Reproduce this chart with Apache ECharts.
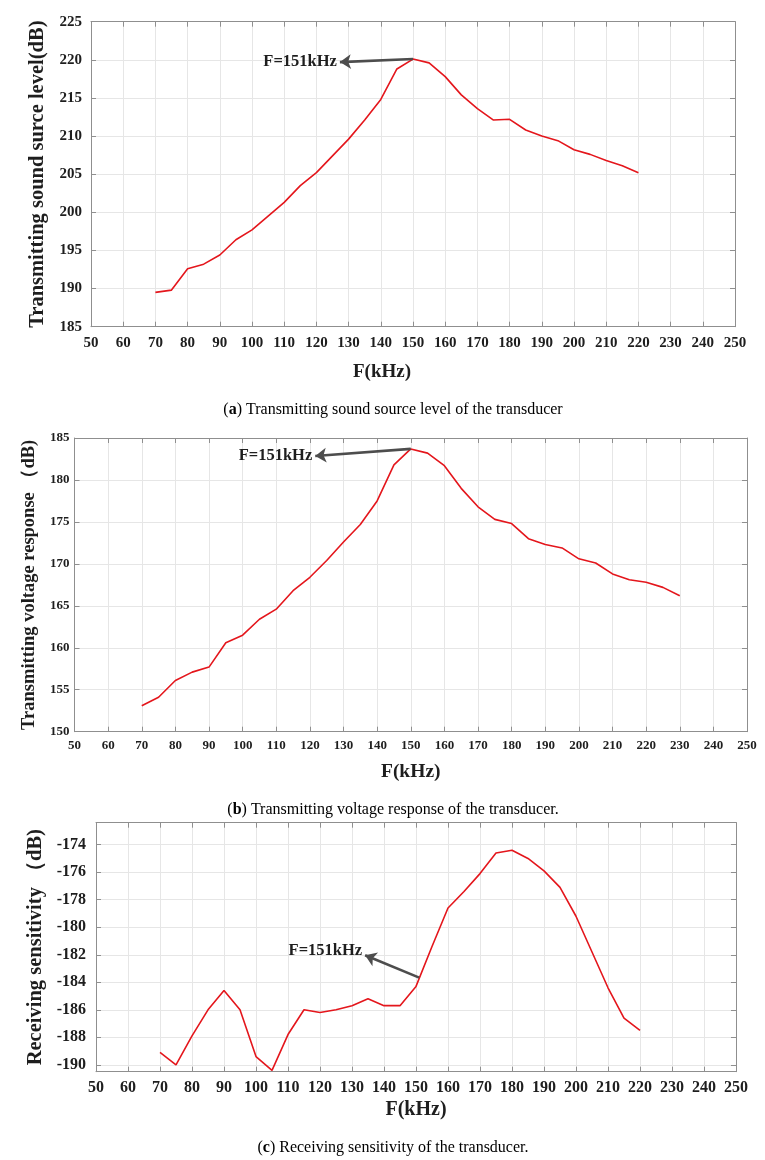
<!DOCTYPE html>
<html><head><meta charset="utf-8">
<script src="https://cdn.jsdelivr.net/npm/echarts@6/dist/echarts.min.js"></script>
<style>html,body{margin:0;padding:0;background:#fff}#c{width:765px;height:1160px}</style>
</head><body><div id="c"></div>
<script>
// ---------- data ----------
const freqA = [70,75,80,85,90,95,100,105,110,115,120,125,130,135,140,145,150,155,160,165,170,175,180,185,190,195,200,205,210,215,220];
const levelA = [189.5,189.8,192.6,193.2,194.4,196.4,197.7,199.5,201.3,203.5,205.2,207.4,209.6,212.1,214.8,218.8,220.1,219.6,217.8,215.4,213.6,212.1,212.2,210.8,210.0,209.4,208.2,207.6,206.8,206.1,205.2];
const freqB = [70,75,80,85,90,95,100,105,110,115,120,125,130,135,140,145,150,155,160,165,170,175,180,185,190,195,200,205,210,215,220,225,230];
const responseB = [153.1,154.1,156.1,157.1,157.7,160.6,161.5,163.4,164.6,166.8,168.4,170.4,172.6,174.7,177.5,181.8,183.7,183.2,181.7,179.0,176.8,175.3,174.8,173.0,172.3,171.9,170.6,170.1,168.8,168.1,167.8,167.2,166.2];
const freqC = [70,75,80,85,90,95,100,105,110,115,120,125,130,135,140,145,150,155,160,165,170,175,180,185,190,195,200,205,210,215,220];
const sensC = [-189.1,-190.0,-187.9,-186.0,-184.6,-186.0,-189.4,-190.4,-187.8,-186.0,-186.2,-186.0,-185.7,-185.2,-185.7,-185.7,-184.3,-181.4,-178.6,-177.4,-176.1,-174.6,-174.4,-175.0,-175.9,-177.1,-179.2,-181.8,-184.4,-186.6,-187.5];
const yTicksC = [-190,-188,-186,-184,-182,-180,-178,-176,-174];
const yNames = ['Transmitting sound surce level(dB)', 'Transmitting voltage response \uFF08dB)', 'Receiving sensitivity \uFF08dB)'];
const xName = 'F(kHz)';
const noteText = 'F=151kHz';
const peakA = [150, 220.1], noteA = [127.3, 219.7];
const peakB = [150, 183.7], noteB = [121.6, 182.86];
const peakC = [151, -183.66], noteC = [134.1, -182.03];
const captionLetters = ['a', 'b', 'c'];
const captionTexts = [' Transmitting sound source level of the transducer', ' Transmitting voltage response of the transducer.', ' Receiving sensitivity of the transducer.'];

// ---------- styling ----------
const SERIF = "'Liberation Serif','Times New Roman',serif";
const BOX = '#8f8f8f';
const GRIDC = '#e6e6e6';
const TXT = '#1e1e1e';
const RED = '#e4161c';

const cfgs = [
  {grid:{left:91, top:21.7, width:644, height:305}, ymin:185, ymax:225, yint:5,
   xFont:15, yFont:15, xMargin:9, yMargin:9, xNameGap:36, xNameSize:19, xNamePad:[0,62,0,0],
   yNameGap:40, yNameSize:20.5},
  {grid:{left:74.5, top:438, width:672.5, height:293.7}, ymin:150, ymax:185, yint:5,
   xFont:13, yFont:13, xMargin:7, yMargin:5, xNameGap:30, xNameSize:19.5, xNamePad:[0,0,0,0],
   yNameGap:34, yNameSize:18.5},
  {grid:{left:96, top:822.7, width:640, height:249}, ymin:-190.5, ymax:-172.4, custom:yTicksC,
   xFont:16, yFont:16, xMargin:8, yMargin:10, xNameGap:28, xNameSize:20, xNamePad:[0,0,0,0],
   yNameGap:46, yNameSize:20.5}
];

const grids = [], xAxes = [], yAxes = [], series = [], graphics = [];
const datasets = [[freqA, levelA, peakA, noteA], [freqB, responseB, peakB, noteB], [freqC, sensC, peakC, noteC]];
const captionY = [410, 810, 1148];

cfgs.forEach((c, i) => {
  grids.push(Object.assign({containLabel:false}, c.grid));
  const tickStyle = {inside:true, length:5, lineStyle:{color:BOX, width:1}};
  const lineStyle = {show:true, onZero:false, lineStyle:{color:BOX, width:1}};
  xAxes.push({
    type:'value', gridIndex:i, min:50, max:250, interval:10, position:'bottom',
    axisLine:lineStyle, axisTick:tickStyle,
    axisLabel:{fontFamily:SERIF, fontWeight:'bold', fontSize:c.xFont, color:TXT, margin:c.xMargin},
    splitLine:{show:true, lineStyle:{color:GRIDC, width:1}},
    name:xName, nameLocation:'middle', nameGap:c.xNameGap,
    nameTextStyle:{fontFamily:SERIF, fontWeight:'bold', fontSize:c.xNameSize, color:TXT, padding:c.xNamePad}
  });
  xAxes.push({
    type:'value', gridIndex:i, min:50, max:250, interval:10, position:'top',
    axisLine:lineStyle, axisTick:tickStyle, axisLabel:{show:false}, splitLine:{show:false}
  });
  const yBase = {type:'value', gridIndex:i, min:c.ymin, max:c.ymax};
  if (c.custom) {
    yAxes.push(Object.assign({}, yBase, {
      position:'left', axisLine:lineStyle,
      axisTick:Object.assign({customValues:c.custom}, tickStyle),
      axisLabel:{customValues:c.custom, fontFamily:SERIF, fontWeight:'bold', fontSize:c.yFont, color:TXT, margin:c.yMargin},
      splitLine:{show:true, lineStyle:{color:GRIDC, width:1}},
      name:yNames[i], nameLocation:'middle', nameRotate:90, nameGap:c.yNameGap,
      nameTextStyle:{fontFamily:SERIF, fontWeight:'bold', fontSize:c.yNameSize, color:TXT}
    }));
    yAxes.push(Object.assign({}, yBase, {
      position:'right', axisLine:lineStyle,
      axisTick:Object.assign({customValues:c.custom}, tickStyle),
      axisLabel:{show:false, customValues:c.custom}, splitLine:{show:false}
    }));
  } else {
    yAxes.push(Object.assign({}, yBase, {
      interval:c.yint, position:'left', axisLine:lineStyle, axisTick:tickStyle,
      axisLabel:{fontFamily:SERIF, fontWeight:'bold', fontSize:c.yFont, color:TXT, margin:c.yMargin},
      splitLine:{show:true, lineStyle:{color:GRIDC, width:1}},
      name:yNames[i], nameLocation:'middle', nameRotate:90, nameGap:c.yNameGap,
      nameTextStyle:{fontFamily:SERIF, fontWeight:'bold', fontSize:c.yNameSize, color:TXT}
    }));
    yAxes.push(Object.assign({}, yBase, {
      interval:c.yint, position:'right', axisLine:lineStyle, axisTick:tickStyle,
      axisLabel:{show:false}, splitLine:{show:false}
    }));
  }
  const [fx, vy, peak, note] = datasets[i];
  series.push({
    type:'line', xAxisIndex:2*i, yAxisIndex:2*i,
    data:fx.map((f, k) => [f, vy[k]]),
    showSymbol:false, symbol:'none', silent:true,
    lineStyle:{color:RED, width:1.6},
    markLine:{
      silent:true, symbol:['none','arrow'], symbolSize:11,
      lineStyle:{color:'#4d4d4d', width:2.6, type:'solid'},
      itemStyle:{color:'#4d4d4d'},
      label:{show:false},
      data:[[{coord:peak, symbol:'none'}, {coord:note, symbol:'arrow', symbolSize:11}]]
    },
    markPoint:{
      silent:true, symbol:'circle', symbolSize:0,
      label:{show:true, position:'left', distance:3, offset: i === 2 ? [0,-4] : [0,0],
        formatter:noteText, fontFamily:SERIF, fontWeight:'bold', fontSize:16.5, color:TXT},
      data:[{coord:note}]
    }
  });
  graphics.push({
    type:'text', x:393, y:captionY[i],
    style:{
      text:'{p|(}{b|' + captionLetters[i] + '}{p|)' + captionTexts[i] + '}',
      align:'center', verticalAlign:'middle',
      rich:{
        p:{fontFamily:SERIF, fontSize:16, color:'#111'},
        b:{fontFamily:SERIF, fontSize:16, fontWeight:'bold', color:'#111'}
      }
    }
  });
});

const chart = echarts.init(document.getElementById('c'), null, {renderer:'canvas'});
chart.setOption({
  backgroundColor:'#ffffff',
  animation:false,
  grid:grids, xAxis:xAxes, yAxis:yAxes, series:series, graphic:graphics
});
</script>
</body></html>
